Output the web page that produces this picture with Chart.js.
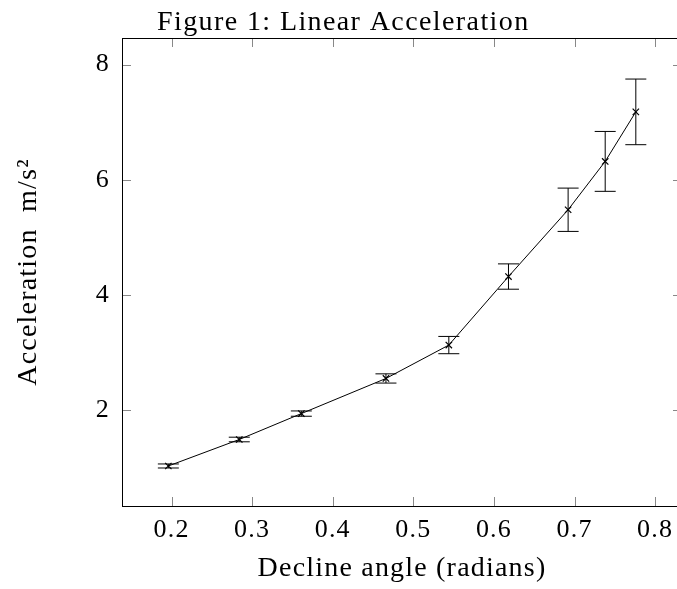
<!DOCTYPE html>
<html>
<head>
  <script src="https://cdn.jsdelivr.net/npm/chart.js"></script>
    <title>Linear Acceleration</title>
    <style>
        html, body {
            margin: 0;
            padding: 0;
            background: white;
            overflow: hidden;
        }
        .chart-container {
            position: relative;
            width: 690px;
            height: 589px;
        }
    </style>
</head>
<body>
    <div class="chart-container">
        <canvas id="accChart"></canvas>
    </div>

    <script>
// Datos
const angles = [0.196, 0.284, 0.361, 0.466, 0.544, 0.618, 0.692, 0.738, 0.776];
const accel = [1.03, 1.49, 1.94, 2.55, 3.13, 4.32, 5.48, 6.32, 7.18];
const accelErr = [0.035, 0.04, 0.046, 0.08, 0.15, 0.22, 0.376, 0.52, 0.57];
const xTicks = [0.2, 0.3, 0.4, 0.5, 0.6, 0.7, 0.8];
const yTicks = [2, 4, 6, 8];

const serif = "'Liberation Serif', 'DejaVu Serif', serif";

// Un poco de espaciado para acercarse al ancho de la fuente de LaTeX
const spacing = {
    id: 'spacing',
    beforeDraw(chart) {
        chart.ctx.letterSpacing = '1.2px';
    }
};

// Barras de error
const errorBars = {
    id: 'errorBars',
    afterDatasetsDraw(chart) {
        const { ctx, scales: { x, y } } = chart;
        ctx.save();
        ctx.strokeStyle = '#000';
        ctx.lineWidth = 1;
        angles.forEach((a, i) => {
            const px = x.getPixelForValue(a);
            const top = y.getPixelForValue(accel[i] + accelErr[i]);
            const bot = y.getPixelForValue(accel[i] - accelErr[i]);
            ctx.beginPath();
            ctx.moveTo(px, top);
            ctx.lineTo(px, bot);
            ctx.moveTo(px - 10.5, top);
            ctx.lineTo(px + 10.5, top);
            ctx.moveTo(px - 10.5, bot);
            ctx.lineTo(px + 10.5, bot);
            ctx.stroke();
        });
        ctx.restore();
    }
};

// Marco y marcas hacia dentro (estilo pgfplots)
const frame = {
    id: 'frame',
    afterDraw(chart) {
        const { ctx, chartArea: a, scales: { x, y } } = chart;
        const len = 9;
        ctx.save();
        ctx.strokeStyle = '#888';
        ctx.lineWidth = 1;
        ctx.beginPath();
        x.ticks.forEach(t => {
            const px = Math.round(x.getPixelForValue(t.value)) + 0.5;
            ctx.moveTo(px, a.bottom); ctx.lineTo(px, a.bottom - len);
            ctx.moveTo(px, a.top); ctx.lineTo(px, a.top + len);
        });
        y.ticks.forEach(t => {
            const py = Math.round(y.getPixelForValue(t.value)) + 0.5;
            ctx.moveTo(a.left, py); ctx.lineTo(a.left + len, py);
            ctx.moveTo(a.right, py); ctx.lineTo(a.right - len, py);
        });
        ctx.stroke();
        ctx.strokeStyle = '#000';
        ctx.strokeRect(a.left + 0.5, a.top + 0.5, a.right - a.left, a.bottom - a.top);

        ctx.fillStyle = '#000';
        ctx.font = '28px ' + serif;
        ctx.letterSpacing = '1.4px';
        ctx.textBaseline = 'alphabetic';
        ctx.fillText('Figure 1: Linear Acceleration', 157, 30);
        ctx.restore();
    }
};

new Chart(document.getElementById('accChart'), {
    type: 'line',
    data: {
        datasets: [{
            data: angles.map((a, i) => ({ x: a, y: accel[i] })),
            borderColor: '#000',
            borderWidth: 1,
            pointStyle: 'crossRot',
            pointRadius: 4.5,
            pointBorderColor: '#000',
            pointBorderWidth: 1.2,
            fill: false,
            tension: 0
        }]
    },
    options: {
        responsive: true,
        maintainAspectRatio: false,
        animation: false,
        layout: { padding: { top: 38, right: 8, left: 0, bottom: 0 } },
        plugins: {
            legend: { display: false },
            tooltip: { enabled: false }
        },
        scales: {
            x: {
                type: 'linear',
                min: 0.1385,
                max: 0.8333,
                grid: { display: false, drawTicks: false },
                border: { display: false },
                afterBuildTicks: s => { s.ticks = xTicks.map(v => ({ value: v })); },
                afterFit: s => { s.height = 83; },
                ticks: {
                    color: '#000',
                    padding: 9,
                    font: { family: serif, size: 26 },
                    callback: v => v.toFixed(1)
                },
                title: {
                    display: true,
                    text: 'Decline angle (radians)',
                    color: '#000',
                    font: { family: serif, size: 28 },
                    padding: { top: 0, bottom: 4 }
                }
            },
            y: {
                min: 0.335,
                max: 8.463,
                grid: { display: false, drawTicks: false },
                border: { display: false },
                afterBuildTicks: s => { s.ticks = yTicks.map(v => ({ value: v })); },
                afterFit: s => { s.width = 122; },
                ticks: {
                    color: '#000',
                    padding: 12,
                    font: { family: serif, size: 26 }
                },
                title: {
                    display: true,
                    text: 'Acceleration  m/s²',
                    color: '#000',
                    font: { family: serif, size: 28 },
                    padding: { top: 12, bottom: 0 }
                }
            }
        }
    },
    plugins: [spacing, errorBars, frame]
});
</script>
</body>
</html>
